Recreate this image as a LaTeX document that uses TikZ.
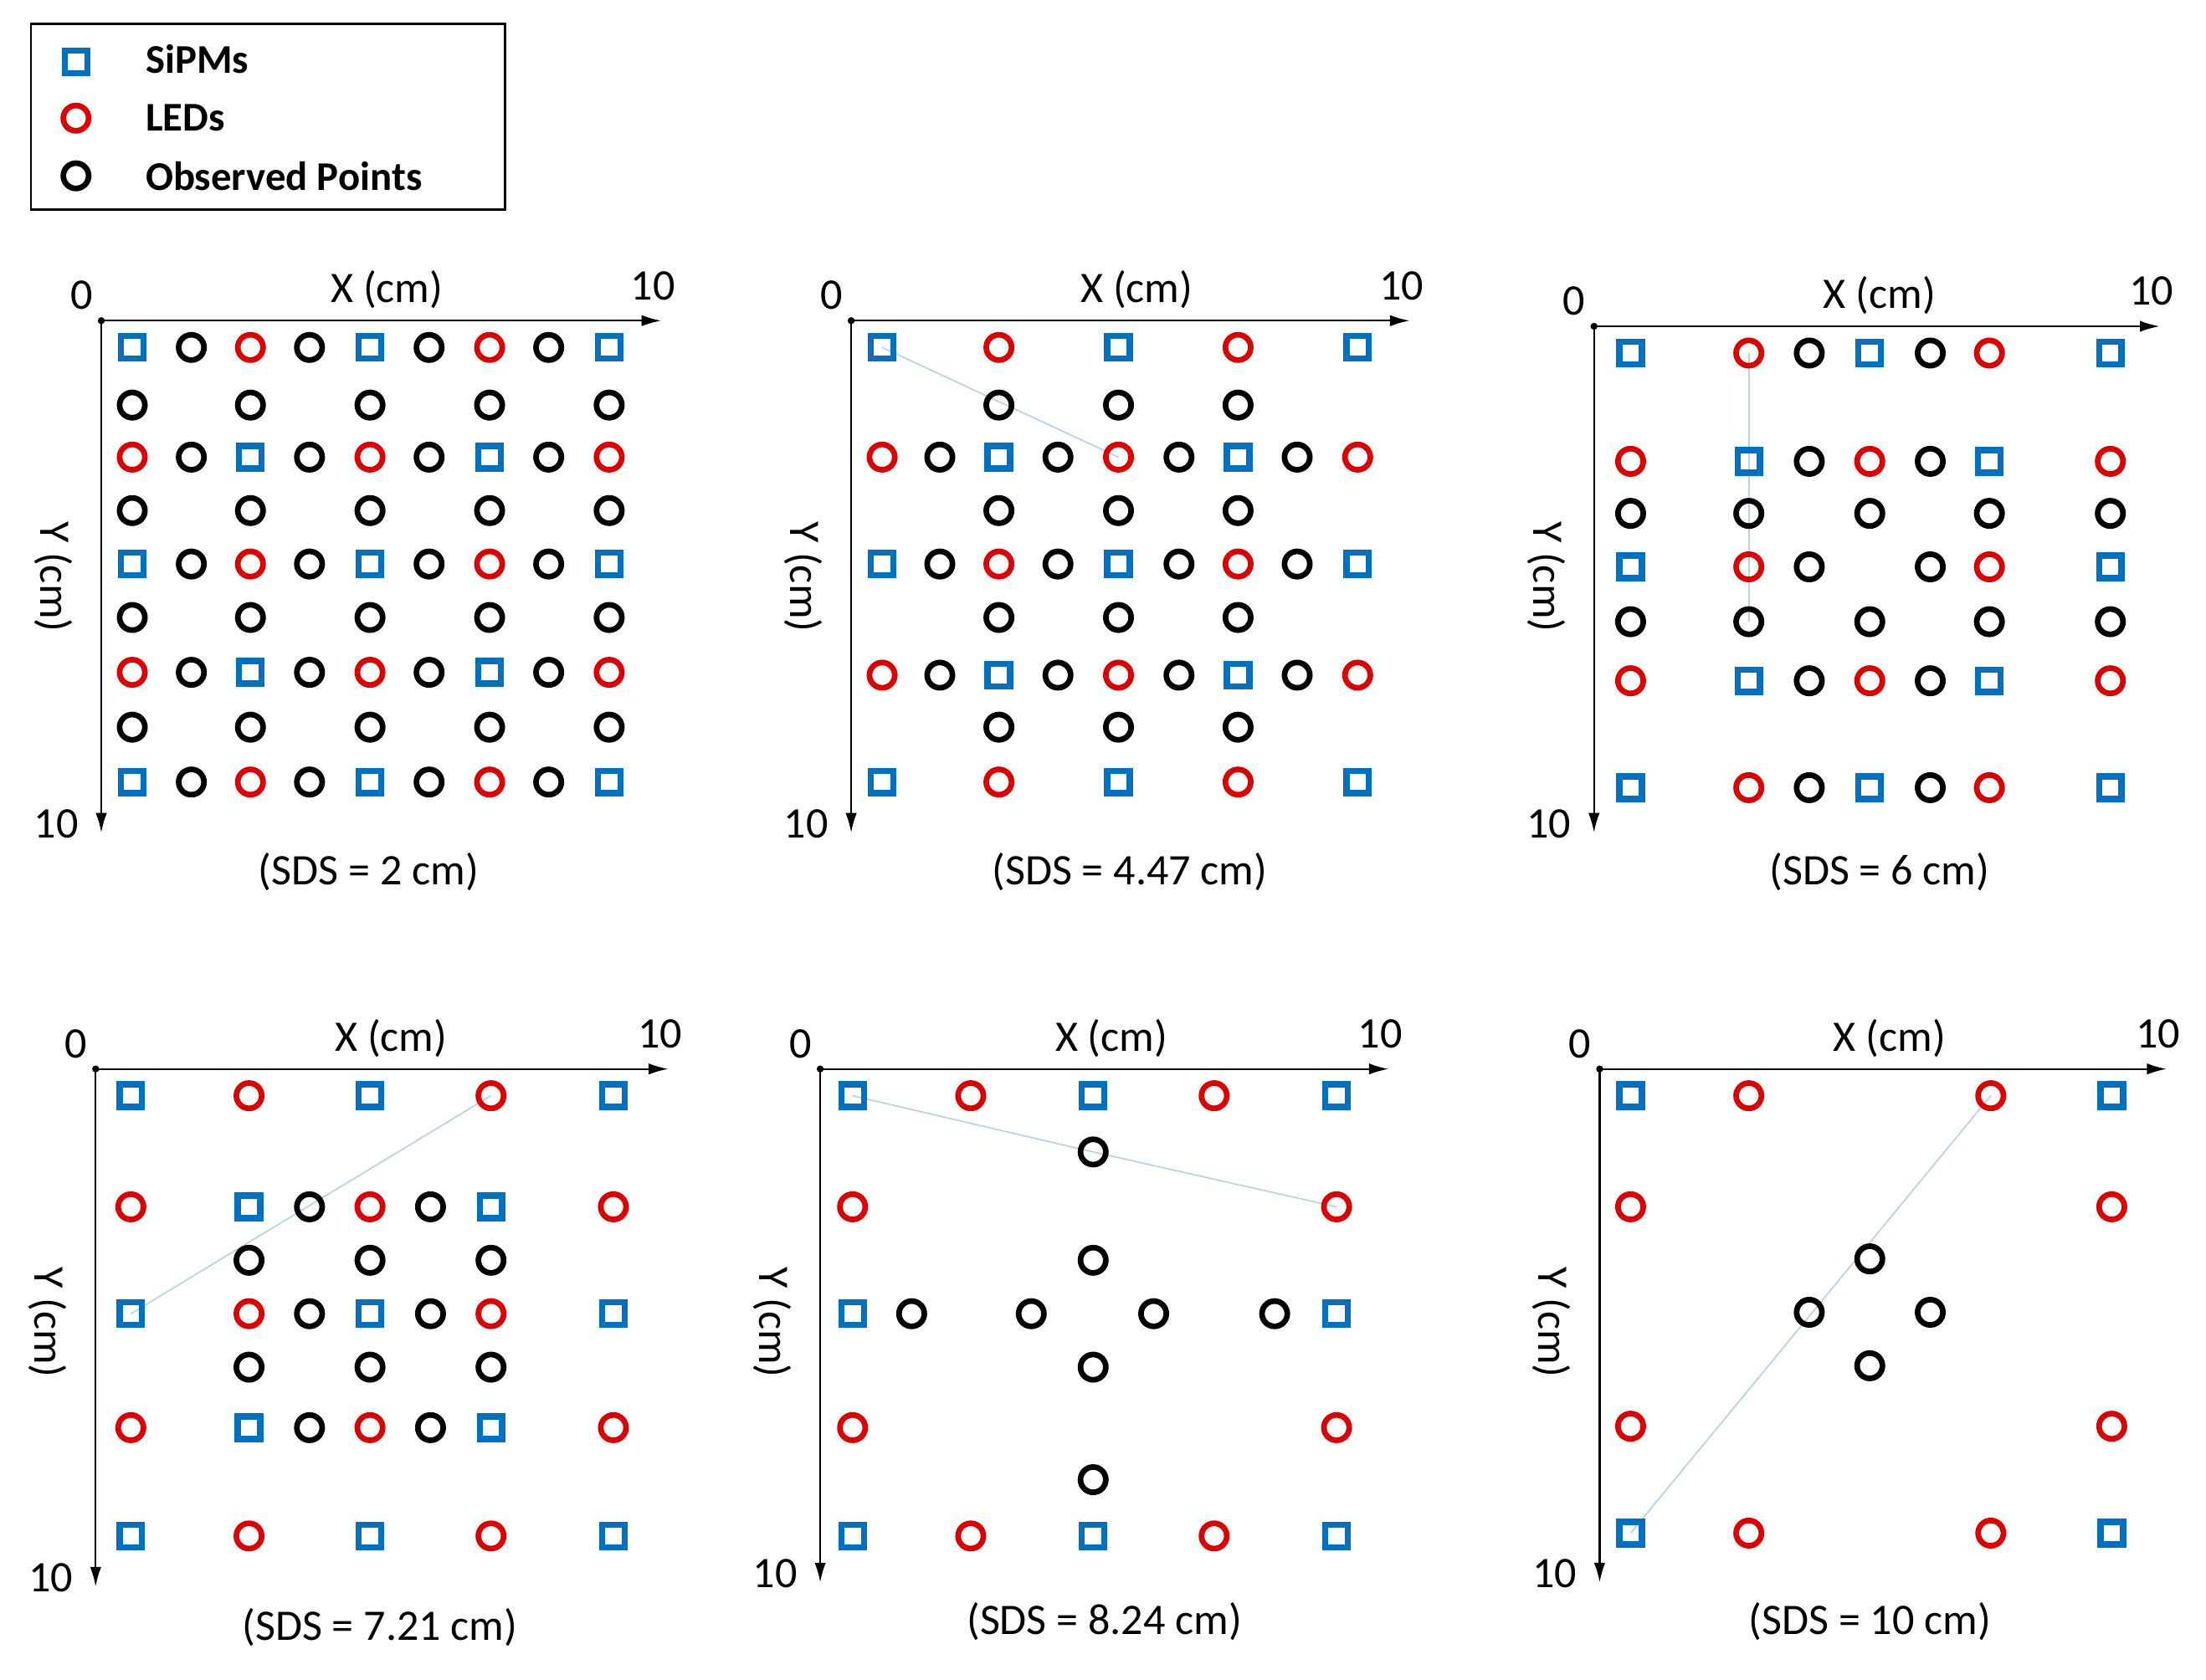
\documentclass[tikz,border=0pt]{standalone}
\usepackage{fontspec}
\usetikzlibrary{arrows.meta}
\setmainfont{Carlito}
\definecolor{sblue}{RGB}{0,112,192}
\definecolor{lred}{RGB}{222,0,0}
\definecolor{lline}{RGB}{180,210,235}
\begin{document}
\begin{tikzpicture}[x=1pt,y=-1pt,
 sq/.style={draw=sblue,line width=4.4pt,minimum size=16pt,inner sep=0pt},
 led/.style={circle,draw=lred,line width=4pt,minimum size=18pt,inner sep=0pt},
 obs/.style={circle,draw=black,line width=4pt,minimum size=18pt,inner sep=0pt},
 ax/.style={line width=1.3pt,-{Latex[length=14pt,width=8pt]}},
 lbl/.style={font=\fontsize{31}{34}\selectfont},
 thin/.style={lline,line width=1pt}]
\useasboundingbox (0,0) rectangle (1568,1194);
\fill[white] (0,0) rectangle (1568,1194);
% legend
\draw[line width=1.4pt] (22,17) rectangle (359,149);
\node[sq] at (54,44) {}; \node[led] at (54,84) {}; \node[obs] at (54,125) {};
\node[anchor=west,font=\fontsize{29}{31}\selectfont\bfseries] at (100,42) {SiPMs};
\node[anchor=west,font=\fontsize{29}{31}\selectfont\bfseries] at (100,84) {LEDs};
\node[anchor=west,font=\fontsize{29}{31}\selectfont\bfseries] at (100,125) {Observed Points};
\newcommand\panel[9]{%
 \fill (#1,#2) circle (2.5pt);
 \draw[ax] (#1,#2) -- (#3,#2);
 \draw[ax] (#1,#2) -- (#1,#4);
 \node[lbl] at (#1-14,#2-18) {0};
 \node[lbl] at (#3-6,#2-25) {10};
 \node[lbl] at (#5,#2-22) {X (cm)};
 \node[lbl,rotate=-90] at (#1-34,#9) {Y (cm)};
 \node[lbl] at (#1-32,#4-6) {10};
 \node[lbl] at (#6,#7) {#8};
}
% Panel 1
\panel{72}{228}{470}{592}{275}{262}{620}{(SDS = 2 cm)}{410}
\foreach \y/\a in {247/0,325/1,401/0,478/1,556/0}{
 \foreach \x [count=\i from 0] in {94,136,178,220,263,305,348,390,433}{
  \pgfmathtruncatemacro\k{mod(\i+2*\a,4)}
  \ifodd\i \node[obs] at (\x,\y) {};
  \else\ifnum\k=0 \node[sq] at (\x,\y) {};\else \node[led] at (\x,\y) {};\fi\fi }}
\foreach \y in {288,363,439,517}{\foreach \x in {94,178,263,348,433}{\node[obs] at (\x,\y) {};}}
% Panel 2
\panel{605}{228}{1002}{592}{808}{803}{620}{(SDS = 4.47 cm)}{410}
\draw[thin] (627,247) -- (795,325);
\foreach \y/\a in {247/0,556/0}{\foreach \x/\t in {627/sq,710/led,795/sq,880/led,965/sq}{\node[\t] at (\x,\y) {};}}
\foreach \y/\a in {325/1,401/0,480/1}{
 \foreach \x [count=\i from 0] in {627,668,710,752,795,838,880,922,965}{
  \pgfmathtruncatemacro\k{mod(\i+2*\a,4)}
  \ifodd\i \node[obs] at (\x,\y) {};
  \else\ifnum\k=0 \node[sq] at (\x,\y) {};\else \node[led] at (\x,\y) {};\fi\fi }}
\foreach \y in {288,363,439,517}{\foreach \x in {710,795,880}{\node[obs] at (\x,\y) {};}}
% Panel 3
\panel{1133}{232}{1535}{592}{1336}{1336}{620}{(SDS = 6 cm)}{410}
\draw[thin] (1243,251) -- (1243,442);
\foreach \y in {251,560}{\foreach \x/\t in {1159/sq,1243/led,1286/obs,1329/sq,1372/obs,1414/led,1500/sq}{\node[\t] at (\x,\y) {};}}
\foreach \y in {328,484}{\foreach \x/\t in {1159/led,1243/sq,1286/obs,1329/led,1372/obs,1414/sq,1500/led}{\node[\t] at (\x,\y) {};}}
\foreach \y in {365,442}{\foreach \x in {1159,1243,1329,1414,1500}{\node[obs] at (\x,\y) {};}}
\foreach \x/\t in {1159/sq,1243/led,1286/obs,1372/obs,1414/led,1500/sq}{\node[\t] at (\x,403) {};}
% Panel 4
\panel{68}{760}{475}{1128}{278}{270}{1157}{(SDS = 7.21 cm)}{940}
\draw[thin] (93,934) -- (349,779);
\foreach \y in {779,1092}{\foreach \x/\t in {93/sq,177/led,263/sq,349/led,436/sq}{\node[\t] at (\x,\y) {};}}
\foreach \y in {858,1015}{\foreach \x/\t in {93/led,177/sq,220/obs,263/led,306/obs,349/sq,436/led}{\node[\t] at (\x,\y) {};}}
\foreach \x/\t in {93/sq,177/led,220/obs,263/sq,306/obs,349/led,436/sq}{\node[\t] at (\x,934) {};}
\foreach \y in {896,972}{\foreach \x in {177,263,349}{\node[obs] at (\x,\y) {};}}
% Panel 5
\panel{583}{760}{987}{1125}{790}{785}{1153}{(SDS = 8.24 cm)}{940}
\draw[thin] (606,779) -- (777,819) -- (950,858);
\foreach \y in {779,1092}{\foreach \x/\t in {606/sq,690/led,777/sq,863/led,950/sq}{\node[\t] at (\x,\y) {};}}
\foreach \y in {819,896,972,1052}{\node[obs] at (777,\y) {};}
\foreach \y in {858,1015}{\node[led] at (606,\y) {}; \node[led] at (950,\y) {};}
\foreach \x/\t in {606/sq,648/obs,733/obs,820/obs,906/obs,950/sq}{\node[\t] at (\x,934) {};}
% Panel 6
\panel{1137}{760}{1540}{1125}{1343}{1329}{1153}{(SDS = 10 cm)}{940}
\draw[thin] (1159,1090) -- (1415,779);
\foreach \y in {779,1090}{\foreach \x/\t in {1159/sq,1243/led,1415/led,1501/sq}{\node[\t] at (\x,\y) {};}}
\foreach \y in {858,1014}{\node[led] at (1159,\y) {}; \node[led] at (1501,\y) {};}
\node[obs] at (1329,895) {}; \node[obs] at (1286,933) {}; \node[obs] at (1372,933) {}; \node[obs] at (1329,971) {};
\end{tikzpicture}
\end{document}
